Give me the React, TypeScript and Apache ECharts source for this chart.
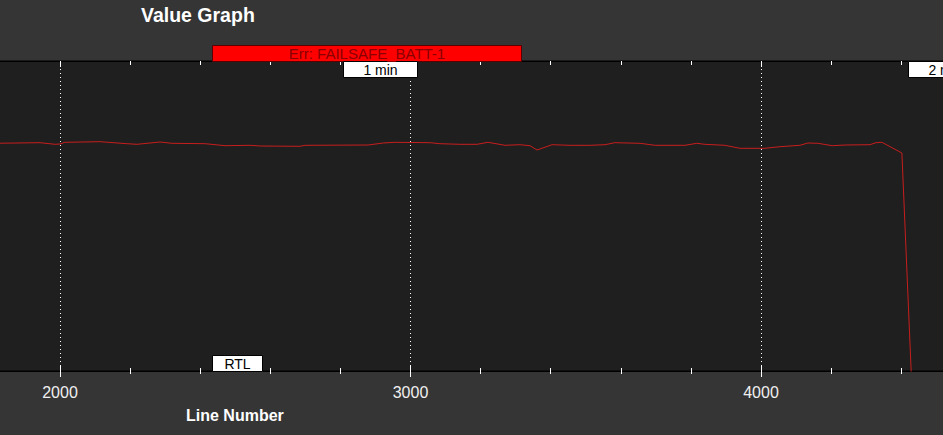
import React, { useEffect, useRef } from "react";
import * as echarts from "echarts";

const lineNumbers = [1810, 1943, 1986, 2000, 2014, 2114, 2191, 2220, 2285, 2320, 2414, 2471, 2542, 2571, 2685, 2699, 2879, 2922, 2956, 3056, 3084, 3141, 3190, 3221, 3270, 3312, 3341, 3361, 3404, 3455, 3512, 3555, 3583, 3655, 3698, 3783, 3817, 3840, 3897, 3940, 4011, 4054, 4111, 4134, 4163, 4203, 4240, 4311, 4328, 4345, 4402, 4429];
const values = [22.77, 22.83, 22.67, 22.70, 22.87, 22.93, 22.73, 22.67, 22.90, 22.77, 22.73, 22.53, 22.57, 22.50, 22.47, 22.57, 22.60, 22.80, 22.87, 22.83, 22.73, 22.67, 22.67, 22.87, 22.57, 22.63, 22.53, 22.10, 22.63, 22.57, 22.57, 22.63, 22.83, 22.77, 22.57, 22.57, 22.77, 22.67, 22.57, 22.27, 22.27, 22.43, 22.57, 22.80, 22.77, 22.53, 22.60, 22.63, 22.83, 22.87, 21.80, -0.5];

const errStarts = [2434];
const errEnds = [3315];
const errLabels = ["Err: FAILSAFE_BATT-1"];

const timeMarkLines = [2807, 4419];
const timeMarkLabels = ["1 min", "2 min"];

const modeLines = [2434];
const modeLabels = ["RTL"];

const FONT = "'Liberation Sans', Arial, sans-serif";

export default function App() {
  const ref = useRef<HTMLDivElement>(null);
  useEffect(() => {
    if (!ref.current) return;
    const chart = echarts.init(ref.current, null, { renderer: "svg" });
    const axisBase = {
      type: "value" as const,
      min: 1000,
      max: 5000,
      interval: 1000,
    };
    chart.setOption({
      animation: false,
      backgroundColor: "#353535",
      title: [
        {
          text: "Value Graph",
          left: 141,
          top: 5,
          padding: 0,
          textStyle: { color: "#ffffff", fontWeight: "bold", fontSize: 19.5, fontFamily: FONT },
        },
        {
          text: "Line Number",
          left: 186,
          top: 407,
          padding: 0,
          textStyle: { color: "#ffffff", fontWeight: "bold", fontSize: 16, fontFamily: FONT },
        },
      ],
      grid: {
        left: -290.5,
        right: -168.5,
        top: 61,
        bottom: 64,
        show: true,
        backgroundColor: "#1f1f1f",
        borderColor: "#000000",
        borderWidth: 1,
        containLabel: false,
        outerBoundsMode: "none",
      },
      xAxis: [
        {
          ...axisBase,
          position: "bottom",
          axisLine: { show: true, lineStyle: { color: "#000000", width: 1 } },
          axisTick: { show: true, inside: false, length: 6, lineStyle: { color: "#ffffff" } },
          minorTick: { show: true, splitNumber: 5, length: 3, lineStyle: { color: "#ffffff" } },
          axisLabel: {
            color: "#f0f0f0",
            fontSize: 16,
            fontFamily: FONT,
            margin: 13,
            showMinLabel: false,
            showMaxLabel: false,
            formatter: (v: number) => String(v),
          },
          splitLine: { show: true, lineStyle: { color: "#ffffff", type: [1, 3], width: 1 } },
        },
        {
          ...axisBase,
          position: "bottom",
          axisLine: { show: false },
          axisTick: { show: true, inside: true, length: 6, lineStyle: { color: "#ffffff" } },
          minorTick: { show: true, splitNumber: 5, length: 3, lineStyle: { color: "#ffffff" } },
          axisLabel: { show: false },
          splitLine: { show: false },
        },
        {
          ...axisBase,
          position: "top",
          axisLine: { show: true, lineStyle: { color: "#000000", width: 1 } },
          axisTick: { show: true, inside: true, length: 6, lineStyle: { color: "#ffffff" } },
          minorTick: { show: true, splitNumber: 5, length: 4, lineStyle: { color: "#ffffff" } },
          axisLabel: { show: false },
          splitLine: { show: false },
        },
      ],
      yAxis: {
        type: "value",
        min: 0,
        max: 31,
        show: false,
        splitLine: { show: false },
      },
      series: [
        {
          type: "line",
          xAxisIndex: 0,
          data: lineNumbers.map((x, i) => [x, values[i]]),
          showSymbol: false,
          symbol: "none",
          clip: true,
          lineStyle: { color: "#c81e1e", width: 1 },
        },
      ],
    });

    const px = (v: number) => chart.convertToPixel({ xAxisIndex: 0 }, v) as number;
    const top = chart.convertToPixel({ yAxisIndex: 0 }, 31) as number;
    const bottom = chart.convertToPixel({ yAxisIndex: 0 }, 0) as number;
    const h = 16;

    const graphics: any[] = [];
    errStarts.forEach((s, i) => {
      const x0 = Math.round(px(s)) + 0.5;
      const x1 = Math.round(px(errEnds[i])) + 0.5;
      graphics.push({
        type: "rect",
        z: 20,
        shape: { x: x0, y: top - h + 0.5, width: x1 - x0, height: h },
        style: { fill: "#ff0000", stroke: "#5a0000", lineWidth: 1 },
      });
      graphics.push({
        type: "text",
        z: 21,
        x: (x0 + x1) / 2,
        y: top - h / 2 + 0.5,
        style: {
          text: errLabels[i],
          fill: "#8a0000",
          font: `15px ${FONT}`,
          align: "center",
          verticalAlign: "middle",
        },
      });
    });
    timeMarkLines.forEach((l, i) => {
      const x0 = Math.round(px(l)) + 0.5;
      const w = 74;
      graphics.push({
        type: "rect",
        z: 20,
        shape: { x: x0, y: top + 0.5, width: w, height: h },
        style: { fill: "#ffffff", stroke: "#000000", lineWidth: 1 },
      });
      graphics.push({
        type: "text",
        z: 21,
        x: x0 + w / 2,
        y: top + h / 2 + 1,
        style: {
          text: timeMarkLabels[i],
          fill: "#000000",
          font: `14px ${FONT}`,
          align: "center",
          verticalAlign: "middle",
        },
      });
    });
    modeLines.forEach((l, i) => {
      const x0 = Math.round(px(l)) + 0.5;
      const w = 50;
      graphics.push({
        type: "rect",
        z: 20,
        shape: { x: x0, y: bottom - h + 0.5, width: w, height: h },
        style: { fill: "#ffffff", stroke: "#000000", lineWidth: 1 },
      });
      graphics.push({
        type: "text",
        z: 21,
        x: x0 + w / 2,
        y: bottom - h / 2 + 0.5,
        style: {
          text: modeLabels[i],
          fill: "#000000",
          font: `14px ${FONT}`,
          align: "center",
          verticalAlign: "middle",
        },
      });
    });
    chart.setOption({ graphic: graphics });

    return () => chart.dispose();
  }, []);
  return (
    <div
      ref={ref}
      style={{ position: "fixed", left: 0, top: 0, width: 943, height: 435 }}
    />
  );
}
